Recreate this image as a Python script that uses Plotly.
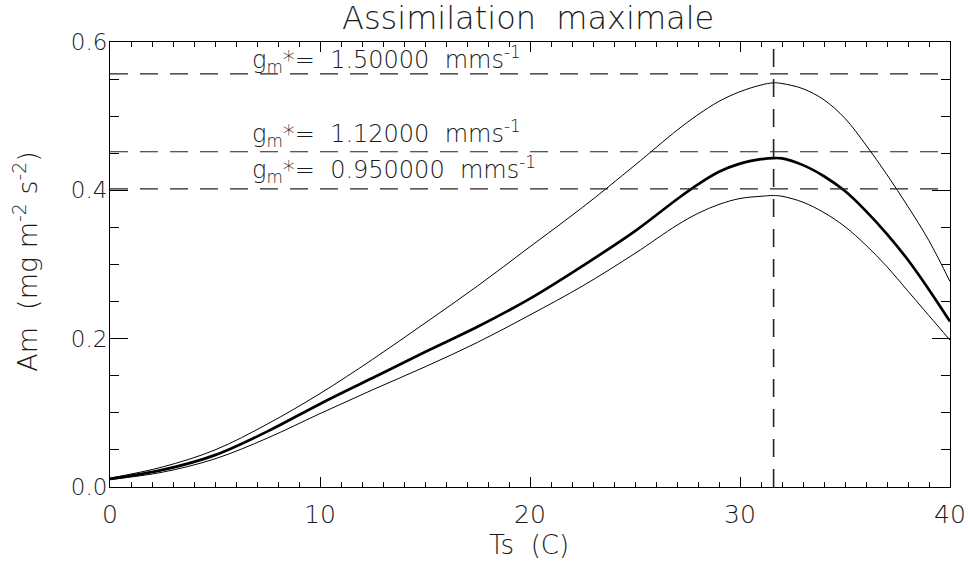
import plotly.graph_objects as go

# Temperature grid (Ts, °C) at which values were read
ts = [0, 2.5, 5, 7.5, 10, 12.5, 15, 17.5, 20, 22.5, 25, 27, 28, 29, 30, 31, 31.6, 32, 33, 34, 35, 36, 37, 38, 39, 40]

# Am for gm* = 1.5 mm/s (upper thin curve)
am_150 = [0.012, 0.027, 0.050, 0.085, 0.126, 0.172, 0.221, 0.271, 0.324, 0.377, 0.434, 0.481, 0.502, 0.520,
          0.533, 0.542, 0.545, 0.544, 0.537, 0.522, 0.497, 0.461, 0.421, 0.378, 0.332, 0.277]
# Am for gm* = 1.12 mm/s (thick curve)
am_112 = [0.011, 0.023, 0.043, 0.075, 0.112, 0.147, 0.182, 0.216, 0.254, 0.298, 0.345, 0.388, 0.408, 0.425,
          0.436, 0.442, 0.4435, 0.443, 0.434, 0.419, 0.399, 0.372, 0.341, 0.306, 0.266, 0.223]
# Am for gm* = 0.95 mm/s (lower thin curve)
am_095 = [0.010, 0.020, 0.038, 0.066, 0.099, 0.131, 0.162, 0.195, 0.232, 0.271, 0.315, 0.353, 0.369, 0.381,
          0.389, 0.392, 0.393, 0.392, 0.384, 0.370, 0.351, 0.326, 0.297, 0.264, 0.231, 0.198]

# Reference levels and optimum temperature (dashed lines)
ref_levels = [0.557, 0.452, 0.402]
ref_labels = ["g<sub>m</sub>*=  1.50000  mms<sup>-1</sup>",
              "g<sub>m</sub>*=  1.12000  mms<sup>-1</sup>",
              "g<sub>m</sub>*=  0.950000  mms<sup>-1</sup>"]
label_y = [0.577, 0.477, 0.428]
label_x = 6.65
t_opt = 31.6
ref_x_end = 39.6

FONT = "DejaVu Sans"
TXT = "#1a1a1a"

fig = go.Figure()

for y, w in [(am_150, 1), (am_112, 2.7), (am_095, 1)]:
    fig.add_trace(go.Scatter(x=ts, y=y, mode="lines",
                             line=dict(color="black", width=w, shape="spline", smoothing=1.0),
                             showlegend=False, hoverinfo="skip"))

for lvl in ref_levels:
    fig.add_shape(type="line", xref="x", yref="y", x0=0, x1=ref_x_end, y0=lvl, y1=lvl,
                  line=dict(color="#222", width=1.2, dash="18px,12px"))
fig.add_shape(type="line", xref="x", yref="y", x0=t_opt, x1=t_opt, y0=0, y1=0.6,
              line=dict(color="#222", width=1.6, dash="18px,12px"))

for txt, ly in zip(ref_labels, label_y):
    fig.add_annotation(x=label_x, y=ly, xref="x", yref="y", text=txt, showarrow=False, xanchor="left",
                       yanchor="middle", font=dict(family=FONT, size=24, color=TXT, weight=300))

# y-axis title
fig.add_annotation(xref="paper", yref="paper", x=0, y=0.506, xshift=-84,
                   text="Am  (mg m<sup>-2</sup> s<sup>-2</sup>)",
                   textangle=-90, showarrow=False, xanchor="center", yanchor="middle",
                   font=dict(family=FONT, size=27, color=TXT, weight=300))
# x-axis title
fig.add_annotation(xref="paper", yref="paper", x=0.4988, y=0, yshift=-58, text="Ts  (C)",
                   showarrow=False, xanchor="center", yanchor="middle",
                   font=dict(family=FONT, size=26, color=TXT, weight=300))
# chart title
fig.add_annotation(xref="paper", yref="paper", x=0.4976, y=1, yshift=24, text="Assimilation  maximale",
                   showarrow=False, xanchor="center", yanchor="middle",
                   font=dict(family=FONT, size=32, color=TXT, weight=300))

axis_common = dict(showline=True, linecolor="black", linewidth=1, mirror="ticks", ticks="inside",
                   showgrid=False, zeroline=False, tickcolor="black", automargin=False)

fig.update_xaxes(range=[0, 40], dtick=10, ticklen=10, tickwidth=1,
                 minor=dict(dtick=1, ticklen=5, ticks="inside", tickcolor="black"),
                 tickfont=dict(family=FONT, size=25, color=TXT, weight=300),
                 ticklabelstandoff=5, **axis_common)
fig.update_yaxes(range=[0, 0.6], dtick=0.2, tickformat=".1f", ticklen=18, tickwidth=1,
                 minor=dict(dtick=0.05, ticklen=9, ticks="inside", tickcolor="black"),
                 tickfont=dict(family=FONT, size=23, color=TXT, weight=300),
                 ticklabelstandoff=-3, **axis_common)

fig.update_layout(width=968, height=564, margin=dict(l=110, r=18, t=42, b=77),
                  plot_bgcolor="white", paper_bgcolor="white")

fig.write_html("out.html", config={"displayModeBar": False},
               post_script="document.body.style.margin='0px';")
